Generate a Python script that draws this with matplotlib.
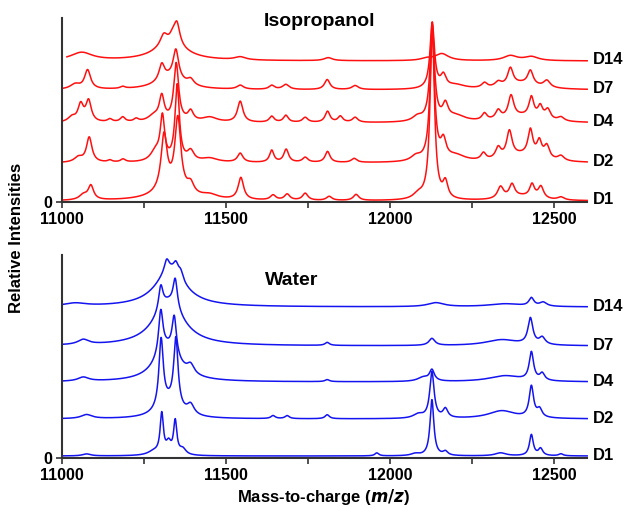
import matplotlib
matplotlib.use('Agg')
import matplotlib.pyplot as plt
import numpy as np

plt.rcParams['font.family'] = ['Liberation Sans', 'DejaVu Sans']
plt.rcParams['font.weight'] = 'bold'

# sample days, bottom trace first
days = ['D1', 'D2', 'D4', 'D7', 'D14']

# mass range of the spectra (m/z)
mz_min, mz_max = 11000, 12600

# --- Isopropanol spectra: baseline offset, first m/z, peak table (centre, height, half-width)
ipa_offset = [1, 39, 79, 112, 141]
ipa_start = [11000, 11000, 11000, 11000, 11015]
ipa_peaks = [
    [(11065, 5, 15), (11088, 14, 10), (11330, 10, 60), (11311, 55, 11), (11353, 72, 11),
     (11392, 10, 12), (11450, 4, 30), (11545, 22, 10), (11643, 5, 10), (11686, 6, 10),
     (11741, 7, 10), (11814, 4, 10), (11896, 6, 10), (12085, 5, 18), (12128, 172, 8),
     (12168, 16, 9), (12336, 12, 11), (12371, 13, 10), (12432, 13, 9), (12459, 12, 10),
     (12400, 4, 50), (12520, 3, 12)],
    [(11050, 5, 15), (11083, 25, 10), (11146, 2, 8), (11186, 3, 9), (11285, 10, 18),
     (11306, 43, 8), (11351, 76, 8), (11392, 10, 12), (11450, 4, 30), (11543, 9, 10),
     (11639, 12, 8), (11683, 13, 9), (11741, 5, 10), (11809, 11, 9), (11890, 4, 10),
     (12078, 5, 18), (12128, 132, 8), (12162, 18, 10), (12200, 6, 35), (12284, 7, 9),
     (12329, 11, 10), (12363, 26, 10), (12427, 26, 9), (12454, 16, 9), (12477, 13, 10),
     (12520, 5, 12), (12400, 7, 60)],
    [(11030, 5, 14), (11057, 17, 10), (11081, 21, 10), (11146, 3, 9), (11185, 5, 9),
     (11226, 3, 9), (11280, 6, 22), (11304, 24, 9), (11348, 58, 9), (11392, 10, 10),
     (11450, 5, 28), (11543, 21, 10), (11639, 6, 9), (11682, 7, 9), (11741, 5, 10),
     (11809, 11, 9), (11848, 6, 9), (11893, 5, 10), (12083, 5, 18), (12128, 96, 8),
     (12168, 15, 10), (12200, 6, 35), (12287, 7, 9), (12329, 9, 10), (12368, 22, 10),
     (12430, 20, 9), (12457, 12, 9), (12480, 10, 10), (12520, 4, 12), (12400, 6, 60)],
    [(11040, 5, 18), (11078, 19, 11), (11185, 2, 9), (11330, 12, 50), (11304, 16, 10),
     (11347, 29, 10), (11392, 6, 12), (11543, 4, 12), (11639, 4, 10), (11682, 5, 12),
     (11808, 10, 10), (11893, 4, 12), (12128, 66, 8), (12162, 12, 10), (12200, 4, 35),
     (12287, 5, 10), (12329, 5, 12), (12366, 17, 10), (12427, 14, 10), (12477, 7, 12),
     (12400, 6, 60)],
    [(11060, 8, 40), (11330, 16, 60), (11310, 11, 13), (11337, 6, 10), (11350, 22, 11),
     (11543, 3, 20), (11811, 3, 15), (12110, 2, 20), (12157, 7, 25), (12366, 5, 25),
     (12430, 4, 25)],
]

# --- Water spectra
water_offset = [2, 39, 76, 112, 151]
water_start = [11000, 11000, 11000, 11000, 11000]
water_peaks = [
    [(11075, 2, 15), (11280, 4, 22), (11304, 40, 6), (11325, 11, 9), (11345, 33, 6),
     (11368, 6, 12), (11959, 3, 7), (12076, 2, 15), (12127, 56, 7), (12168, 4, 9),
     (12336, 3, 20), (12430, 21, 7), (12458, 7, 8), (12520, 2, 8)],
    [(11075, 4, 20), (11325, 15, 40), (11302, 68, 8), (11347, 68, 8), (11392, 10, 13),
     (11643, 3, 8), (11686, 3, 8), (11808, 4, 8), (12085, 4, 18), (12127, 46, 8),
     (12168, 9, 9), (12340, 8, 50), (12430, 31, 8), (12455, 8, 9)],
    [(11065, 4, 20), (11320, 33, 45), (11301, 43, 8), (11342, 38, 8), (11392, 9, 13),
     (11808, 2, 8), (12100, 4, 20), (12127, 11, 9), (12350, 6, 60), (12430, 28, 8),
     (12463, 7, 9)],
    [(11065, 5, 20), (11325, 43, 55), (11301, 24, 8), (11345, 29, 8), (11808, 3, 8),
     (12127, 7, 11), (12340, 6, 60), (12427, 26, 9), (12463, 7, 11)],
    [(11040, 3, 40), (11330, 36, 55), (11319, 12, 9), (11347, 10, 9), (11362, 8, 9),
     (12139, 4, 30), (12350, 3, 60), (12430, 8, 9), (12466, 4, 13)],
]


def spectrum(mz, offset, peaks):
    y = np.full_like(mz, offset, dtype=float)
    for c, h, w in peaks:
        y += h / (1.0 + ((mz - c) / w) ** 2)
    return y


def draw_panel(ax, offsets, starts, peaks, color, ytop, title, title_xy):
    for off, start, pk, day in zip(offsets, starts, peaks, days):
        mz = np.arange(start, mz_max + 1, 1.0)
        ax.plot(mz, spectrum(mz, off, pk), color=color, lw=1.1, clip_on=False)
        ax.text(mz_max + 18, off + 1, day, ha='left', va='center',
                fontsize=12, fontweight='bold')
    ax.set_xlim(mz_min, mz_max)
    ax.set_ylim(0, ytop)
    for s in ['top', 'right']:
        ax.spines[s].set_visible(False)
    for s in ['left', 'bottom']:
        ax.spines[s].set_color('#333333')
        ax.spines[s].set_linewidth(1.5)
    ax.set_yticks([0])
    ax.set_yticklabels(['0'])
    ax.set_xticks([11000, 11500, 12000, 12500])
    ax.set_xticks(np.arange(11000, 12601, 250), minor=True)
    ax.tick_params(axis='both', which='both', direction='out', length=4,
                   width=1.2, color='#333333', labelsize=11.5, pad=3)
    for lab in ax.get_xticklabels() + ax.get_yticklabels():
        lab.set_fontweight('bold')
    ax.text(title_xy[0], title_xy[1], title, ha='center', va='center',
            fontsize=14, fontweight='bold')


fig = plt.figure(figsize=(6.26, 5.08), dpi=100)
ax_top = fig.add_axes([0.099, 0.6024, 0.839, 0.3622])
ax_bot = fig.add_axes([0.099, 0.0984, 0.839, 0.3996])

draw_panel(ax_top, ipa_offset, ipa_start, ipa_peaks, '#ff1010', 184,
           'Isopropanol', (11783, 180))
draw_panel(ax_bot, water_offset, water_start, water_peaks, '#1414f0', 203,
           'Water', (11701, 178))

fig.text(0.027, 1 - 238 / 508, 'Relative Intensities', rotation=90,
         ha='center', va='center', fontsize=12, fontweight='bold')
fig.text(323.5 / 626, 1 - 497 / 508, 'Mass-to-charge ($\\bf{\\it{m/z}}$)',
         ha='center', va='center', fontsize=12, fontweight='bold')

fig.savefig('out.png', dpi=100)
